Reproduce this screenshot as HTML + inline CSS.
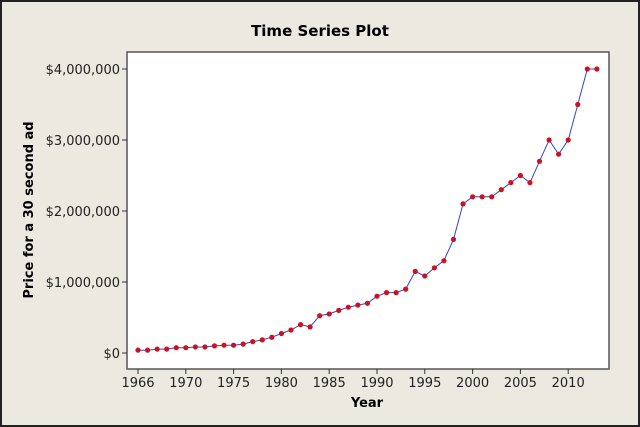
<!DOCTYPE html>
<html><head><style>
html,body{margin:0;padding:0;background:#ece9e1;}
svg{display:block;font-family:"DejaVu Sans","Liberation Sans",sans-serif;}
</style></head><body>
<svg width="640" height="427" viewBox="0 0 640 427">
<rect x="1" y="1" width="638" height="425" fill="#ece9e1" stroke="#222" stroke-width="2"/>
<rect x="127" y="52" width="482" height="317" fill="#fff" stroke="#555" stroke-width="1.5"/>
<text x="320" y="36" text-anchor="middle" font-size="15" font-weight="bold" fill="#000">Time Series Plot</text>
<g font-size="13" fill="#222" text-anchor="end">
<text x="120" y="74">$4,000,000</text>
<text x="120" y="145">$3,000,000</text>
<text x="120" y="216">$2,000,000</text>
<text x="120" y="287">$1,000,000</text>
<text x="120" y="358">$0</text>
</g>
<g stroke="#333" stroke-width="1">
<line x1="122" y1="69" x2="127" y2="69"/><line x1="122" y1="140" x2="127" y2="140"/>
<line x1="122" y1="211" x2="127" y2="211"/><line x1="122" y1="282" x2="127" y2="282"/>
<line x1="122" y1="353" x2="127" y2="353"/>
</g>
<text transform="translate(33,210) rotate(-90)" text-anchor="middle" font-size="13" font-weight="bold" fill="#000">Price for a 30 second ad</text>
<text x="367" y="407" text-anchor="middle" font-size="13" font-weight="bold" fill="#000">Year</text>
<g id="xt" font-size="13" fill="#222" text-anchor="middle"></g>
<g id="xtk" stroke="#333" stroke-width="1"></g>
<polyline id="ln" fill="none" stroke="#3344cc" stroke-width="1"/>
<g id="pts" fill="#d0101c"></g>
</svg>
<script>
var v=[40,40,55,55,75,75,85,85,100,110,110,125,160,185,222,275,324,400,368,525,550,600,645,675,700,800,850,850,900,1150,1085,1200,1300,1600,2100,2200,2200,2200,2300,2400,2500,2400,2700,3000,2800,3000,3500,4000,4000];
var ns="http://www.w3.org/2000/svg",pts=[],g=document.getElementById("pts");
v.forEach(function(d,i){var x=138+i*9.56,y=353-d*0.071;pts.push(x.toFixed(1)+","+y.toFixed(1));
var c=document.createElementNS(ns,"circle");c.setAttribute("cx",x);c.setAttribute("cy",y);c.setAttribute("r",2.6);g.appendChild(c);});
document.getElementById("ln").setAttribute("points",pts.join(" "));
var xt=document.getElementById("xt"),xk=document.getElementById("xtk");
var labs=["1966","1970","1975","1980","1985","1990","1995","2000","2005","2010"];
labs.forEach(function(l,k){var i=k==0?0:k*5;var x=138+i*9.56;
var t=document.createElementNS(ns,"text");t.setAttribute("x",x);t.setAttribute("y",387);t.textContent=l;xt.appendChild(t);
var ln=document.createElementNS(ns,"line");ln.setAttribute("x1",x);ln.setAttribute("x2",x);ln.setAttribute("y1",369);ln.setAttribute("y2",374);xk.appendChild(ln);});
</script>
</body></html>
